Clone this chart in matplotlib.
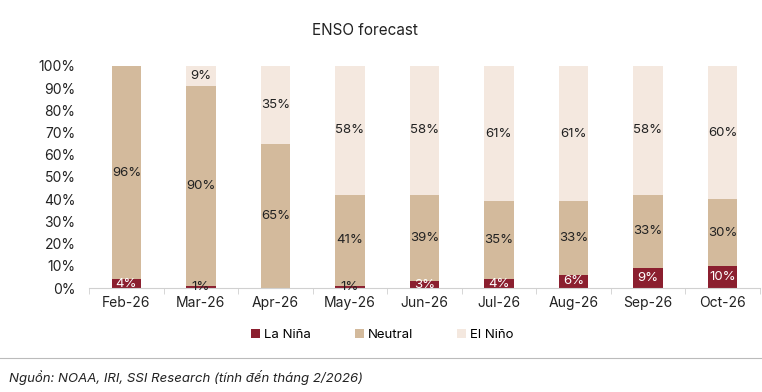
import numpy as np
import matplotlib
matplotlib.use('Agg')
import matplotlib.pyplot as plt
from matplotlib.ticker import FixedLocator, PercentFormatter

plt.rcParams['font.family'] = ['Inter', 'DejaVu Sans']

# data
months = ['Feb-26', 'Mar-26', 'Apr-26', 'May-26', 'Jun-26', 'Jul-26', 'Aug-26', 'Sep-26', 'Oct-26']
la_nina = [4, 1, 0, 1, 3, 4, 6, 9, 10]
neutral = [96, 90, 65, 41, 39, 35, 33, 33, 30]
el_nino = [0, 9, 35, 58, 58, 61, 61, 58, 60]

c_lanina = '#8B1F2F'
c_neutral = '#D3BA9C'
c_elnino = '#F4E8DF'
txt = '#222222'

fig = plt.figure(figsize=(7.62, 3.92), dpi=100)
ax = fig.add_axes([0.117, 0.265, 0.880, 0.567])

x = np.arange(len(months))
w = 0.4
ln = np.array(la_nina)
nt = np.array(neutral)
en = np.array(el_nino)

ax.bar(x, ln, w, color=c_lanina, label='La Niña')
ax.bar(x, nt, w, bottom=ln, color=c_neutral, label='Neutral')
ax.bar(x, en, w, bottom=ln + nt, color=c_elnino, label='El Niño')

for i in range(len(months)):
    if ln[i] > 0:
        col = 'white' if ln[i] >= 3 else txt
        ax.text(x[i], ln[i] / 2, f'{ln[i]}%', ha='center', va='center',
                fontsize=9.5, color=col)
    if nt[i] > 0:
        ax.text(x[i], ln[i] + nt[i] / 2, f'{nt[i]}%', ha='center', va='center',
                fontsize=9.5, color=txt)
    if en[i] > 0:
        ax.text(x[i], ln[i] + nt[i] + en[i] / 2, f'{en[i]}%', ha='center',
                va='center', fontsize=9.5, color=txt)

ax.set_xlim(-0.5, len(months) - 0.5)
ax.set_ylim(0, 100)
ax.set_yticks(np.arange(0, 101, 10))
ax.yaxis.set_major_formatter(PercentFormatter(decimals=0))
ax.set_xticks(x)
ax.set_xticklabels(months)
ax.xaxis.set_minor_locator(FixedLocator(np.arange(-0.5, len(months), 1)))
ax.tick_params(axis='x', which='major', length=0, pad=6, labelsize=10, colors=txt)
ax.tick_params(axis='x', which='minor', length=4, color='#d0d0d0')
ax.tick_params(axis='y', length=0, labelsize=10, colors=txt, pad=10)
for s in ['top', 'right', 'left']:
    ax.spines[s].set_visible(False)
ax.spines['bottom'].set_color('#d0d0d0')

fig.text(0.479, 0.922, 'ENSO forecast', ha='center', va='center', fontsize=11, color=txt)

ax.legend(loc='center', bbox_to_anchor=(0.437, -0.21), ncol=3, frameon=False,
          fontsize=9.5, handlelength=0.7, handleheight=0.7, columnspacing=3.3,
          handletextpad=0.3)

fig.add_artist(plt.Line2D([0.0, 1.0], [0.087, 0.087], color='#bbbbbb', lw=0.8))
fig.text(0.012, 0.038, 'Nguồn: NOAA, IRI, SSI Research (tính đến tháng 2/2026)',
         fontsize=9.5, style='italic', color=txt, va='center')

fig.savefig('out.png', dpi=100, facecolor='white')
